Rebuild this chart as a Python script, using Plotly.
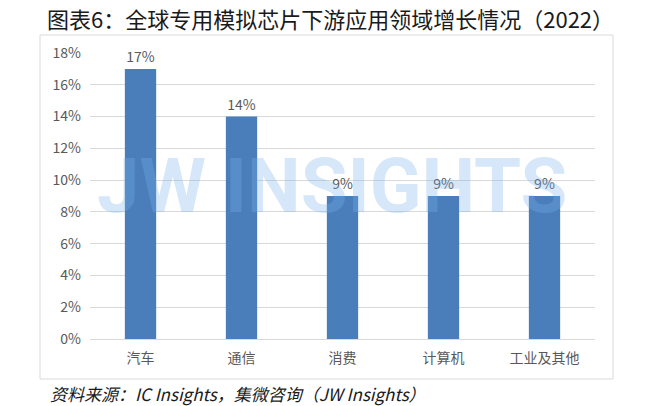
import plotly.graph_objects as go

categories = ["汽车", "通信", "消费", "计算机", "工业及其他"]
growth = [0.17, 0.14, 0.09, 0.09, 0.09]
labels = ["17%", "14%", "9%", "9%", "9%"]
ytick_vals = [0, 0.02, 0.04, 0.06, 0.08, 0.10, 0.12, 0.14, 0.16, 0.18]
ytick_text = ["0%", "2%", "4%", "6%", "8%", "10%", "12%", "14%", "16%", "18%"]

FONT = "Noto Sans CJK SC"
L, R, T, B = 90, 65, 53, 67
W, H = 660, 406
pw, ph = W - L - R, H - T - B

def px(x):
    return (x - L) / pw

def py(y):
    return (H - B - y) / ph

fig = go.Figure()
fig.add_trace(go.Bar(
    x=categories, y=growth, text=labels, textposition="outside",
    textfont=dict(family=FONT, size=14, color="#595959"),
    marker=dict(color="#4a7ebb", line=dict(width=0)),
    cliponaxis=False,
))

fig.update_layout(
    width=W, height=H,
    margin=dict(l=L, r=R, t=T, b=B),
    paper_bgcolor="white", plot_bgcolor="white",
    bargap=0.69,
    showlegend=False,
    font=dict(family=FONT, color="#595959"),
    xaxis=dict(showgrid=False, showline=True, linecolor="#d9d9d9", linewidth=1,
               tickfont=dict(family=FONT, size=14, color="#595959"), ticks="",
               ticklabelstandoff=6),
    yaxis=dict(range=[0, 0.18], tickvals=ytick_vals, ticktext=ytick_text,
               showgrid=True, gridcolor="#d9d9d9", gridwidth=1, zeroline=False,
               tickfont=dict(family=FONT, size=14, color="#595959"), ticks="",
               ticklabelstandoff=8),
    shapes=[dict(type="rect", xref="paper", yref="paper",
                 x0=px(40), x1=px(613), y0=py(379), y1=py(35),
                 line=dict(color="#d9d9d9", width=1), layer="below")],
    annotations=[
        dict(text="图表6：全球专用模拟芯片下游应用领域增长情况（2022）",
             xref="paper", yref="paper", x=px(330), y=py(18),
             xanchor="center", yanchor="middle", showarrow=False,
             font=dict(family=FONT, size=22, color="#1a1a1a")),
        dict(text="<i>资料来源：IC Insights，集微咨询（JW Insights）</i>",
             xref="paper", yref="paper", x=px(48), y=py(393),
             xanchor="left", yanchor="middle", showarrow=False,
             font=dict(family=FONT, size=17, color="#1a1a1a")),
        dict(text="<b>JW INSIGHTS</b>",
             xref="paper", yref="paper", x=px(332), y=py(186),
             xanchor="center", yanchor="middle", showarrow=False,
             font=dict(family="Liberation Sans Narrow, Roboto", size=76,
                       color="rgba(120,175,235,0.30)")),
    ],
)

fig.write_html("out.html", config={"displayModeBar": False},
               post_script="document.body.style.margin='0';document.body.style.padding='0';")
